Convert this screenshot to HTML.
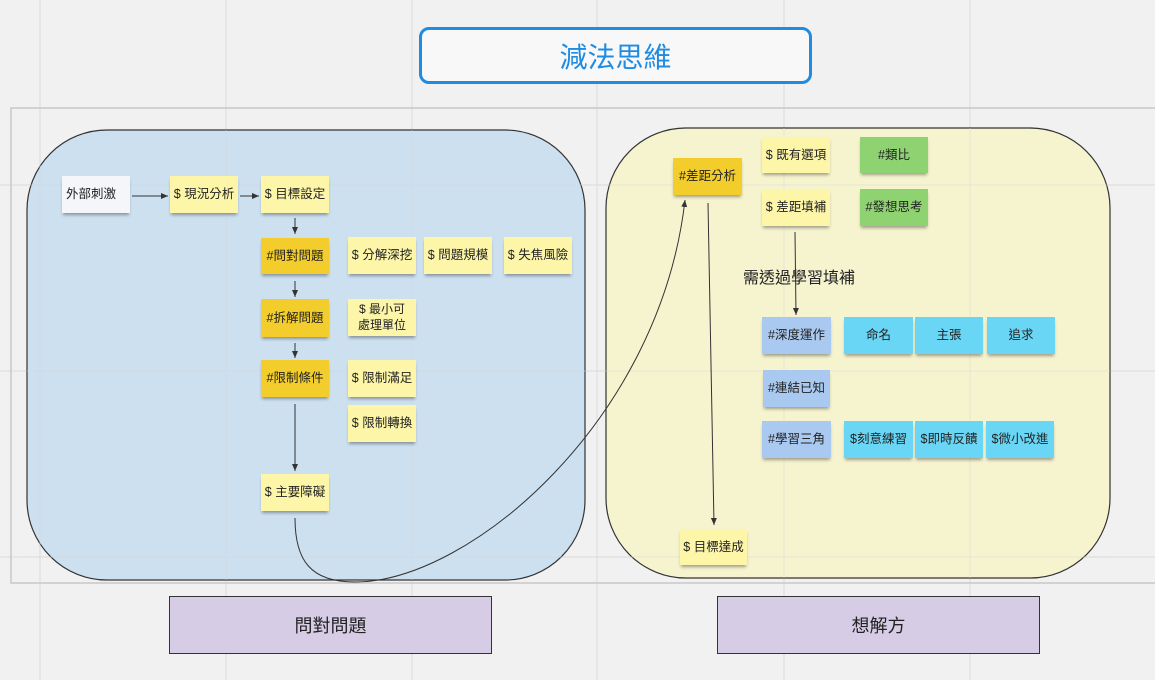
<!DOCTYPE html>
<html><head><meta charset="utf-8"><style>
*{margin:0;padding:0;box-sizing:border-box}
body{width:1155px;height:680px;background:#f1f1f1;position:relative;overflow:hidden;font-family:"Liberation Sans","Noto Sans CJK TC",sans-serif}
.a{position:absolute}
.n{position:absolute;display:flex;align-items:center;justify-content:center;text-align:center;font-size:12.5px;color:#222;box-shadow:0 3px 3px -1px rgba(0,0,0,.35);line-height:1.3}
.y{background:#fdf6a8}.d{background:#f2cd2c}.g{background:#8fd271}.b{background:#a9c9f0}.c{background:#6ad6f5}.w{background:#f4f6fa}
</style></head><body>
<svg class="a" style="left:0;top:0" width="1155" height="680">
<g stroke="#dcdcdc" stroke-width="1">
<line x1="40" y1="0" x2="40" y2="680"/><line x1="226" y1="0" x2="226" y2="680"/><line x1="412" y1="0" x2="412" y2="680"/><line x1="597" y1="0" x2="597" y2="680"/><line x1="784" y1="0" x2="784" y2="680"/><line x1="970" y1="0" x2="970" y2="680"/>
<line x1="0" y1="185" x2="1155" y2="185"/><line x1="0" y1="371" x2="1155" y2="371"/><line x1="0" y1="557" x2="1155" y2="557"/>
</g>
<rect x="11" y="108" width="1150" height="475" fill="none" stroke="#c8c8c8" stroke-width="1.5"/>
<rect x="27" y="130" width="558" height="450" rx="80" fill="#c9def0" fill-opacity=".9" stroke="#333" stroke-width="1.2"/>
<rect x="606" y="128" width="504" height="450" rx="80" fill="#f5f2cc" fill-opacity=".95" stroke="#333" stroke-width="1.2"/>
<g stroke="#d8d8d8" stroke-width="1" opacity=".5">
<line x1="40" y1="130" x2="40" y2="580"/><line x1="226" y1="130" x2="226" y2="580"/><line x1="412" y1="130" x2="412" y2="580"/><line x1="784" y1="128" x2="784" y2="578"/><line x1="970" y1="128" x2="970" y2="578"/>
<line x1="27" y1="185" x2="1110" y2="185"/><line x1="27" y1="371" x2="1110" y2="371"/><line x1="27" y1="557" x2="1110" y2="557"/>
</g>
<defs><marker id="m" markerWidth="8" markerHeight="8" refX="7" refY="4" orient="auto"><path d="M0,1 L7,4 L0,7 z" fill="#333"/></marker></defs>
<g stroke="#333" stroke-width="1" fill="none" marker-end="url(#m)">
<line x1="132" y1="196" x2="168" y2="196"/>
<line x1="240" y1="196" x2="259" y2="196"/>
<line x1="295" y1="218" x2="295" y2="234"/>
<line x1="295" y1="281" x2="295" y2="297"/>
<line x1="295" y1="343" x2="295" y2="358"/>
<line x1="295" y1="404" x2="295" y2="471"/>
<path d="M295,518 C295,560 310,582 355,582 C470,582 660,420 685,200"/>
<line x1="708" y1="203" x2="714" y2="525"/>
<line x1="795" y1="232" x2="796" y2="315"/>
</g>
</svg>
<div class="a" style="left:419px;top:27px;width:393px;height:57px;border:3px solid #1e8ce3;border-radius:10px;background:#f8f8f8;display:flex;align-items:center;justify-content:center;color:#1e8ce3;font-size:28px">減法思維</div>
<div class="n w" style="left:62px;top:176px;width:68px;height:37px;justify-content:flex-start;padding-left:4px">外部刺激</div>
<div class="n y" style="left:170px;top:176px;width:68px;height:37px">$ 現況分析</div>
<div class="n y" style="left:261px;top:176px;width:68px;height:37px">$ 目標設定</div>
<div class="n d" style="left:261px;top:238px;width:68px;height:36px">#問對問題</div>
<div class="n y" style="left:348px;top:237px;width:68px;height:37px">$ 分解深挖</div>
<div class="n y" style="left:424px;top:237px;width:68px;height:37px">$ 問題規模</div>
<div class="n y" style="left:504px;top:237px;width:68px;height:37px">$ 失焦風險</div>
<div class="n d" style="left:261px;top:299px;width:68px;height:38px">#拆解問題</div>
<div class="n y" style="left:348px;top:299px;width:68px;height:37px;font-size:12px">$ 最小可<br>處理單位</div>
<div class="n d" style="left:261px;top:360px;width:68px;height:37px">#限制條件</div>
<div class="n y" style="left:348px;top:360px;width:68px;height:37px">$ 限制滿足</div>
<div class="n y" style="left:348px;top:405px;width:68px;height:37px">$ 限制轉換</div>
<div class="n y" style="left:261px;top:474px;width:68px;height:37px">$ 主要障礙</div>
<div class="n d" style="left:673px;top:158px;width:69px;height:37px">#差距分析</div>
<div class="n y" style="left:762px;top:137px;width:68px;height:36px">$ 既有選項</div>
<div class="n g" style="left:860px;top:137px;width:68px;height:36px">#類比</div>
<div class="n y" style="left:762px;top:189px;width:68px;height:37px">$ 差距填補</div>
<div class="n g" style="left:860px;top:189px;width:68px;height:37px">#發想思考</div>
<div class="a" style="left:743px;top:264px;font-size:16px;color:#222">需透過學習填補</div>
<div class="n b" style="left:762px;top:317px;width:69px;height:37px">#深度運作</div>
<div class="n c" style="left:844px;top:317px;width:69px;height:37px">命名</div>
<div class="n c" style="left:915px;top:317px;width:68px;height:37px">主張</div>
<div class="n c" style="left:987px;top:317px;width:68px;height:37px">追求</div>
<div class="n b" style="left:763px;top:370px;width:67px;height:37px">#連結已知</div>
<div class="n b" style="left:762px;top:421px;width:69px;height:37px">#學習三角</div>
<div class="n c" style="left:844px;top:421px;width:69px;height:37px">$刻意練習</div>
<div class="n c" style="left:915px;top:421px;width:68px;height:37px">$即時反饋</div>
<div class="n c" style="left:986px;top:421px;width:68px;height:37px">$微小改進</div>
<div class="n y" style="left:680px;top:529px;width:67px;height:36px">$ 目標達成</div>
<div class="a" style="left:169px;top:596px;width:323px;height:58px;background:#d6cce6;border:1px solid #333;display:flex;align-items:center;justify-content:center;font-size:18px;color:#222">問對問題</div>
<div class="a" style="left:717px;top:596px;width:323px;height:58px;background:#d6cce6;border:1px solid #333;display:flex;align-items:center;justify-content:center;font-size:18px;color:#222">想解方</div>
</body></html>
